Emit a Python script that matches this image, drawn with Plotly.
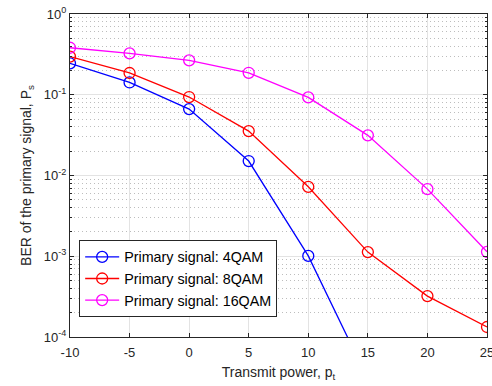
import plotly.graph_objects as go

power = [-10, -5, 0, 5, 10, 15, 20, 25]
ber_4qam = [0.245, 0.142, 0.0665, 0.0151, 0.00101, 3.0e-5, 5e-7, 5e-9]
ber_8qam = [0.296, 0.186, 0.0937, 0.0355, 0.00724, 0.001125, 0.000321, 0.000133]
ber_16qam = [0.382, 0.326, 0.267, 0.187, 0.0929, 0.0314, 0.00678, 0.001135]
names = ["Primary signal: 4QAM", "Primary signal: 8QAM", "Primary signal: 16QAM"]
colors = ["#0000FF", "#FF0000", "#FF00FF"]
x_ticks = [-10, -5, 0, 5, 10, 15, 20, 25]
x_ticktext = ["-10", "-5", "0", "5", "10", "15", "20", "25"]
y_ticks = [1e-4, 1e-3, 1e-2, 1e-1, 1e0]
y_ticktext = ["10<sup>-4</sup>", "10<sup>-3</sup>", "10<sup>-2</sup>", "10<sup>-1</sup>", "10<sup>0</sup>"]

fig = go.Figure()
for ys, nm, c in zip([ber_4qam, ber_8qam, ber_16qam], names, colors):
    fig.add_trace(go.Scatter(
        x=power, y=ys, name=nm, mode="lines+markers",
        line=dict(color=c, width=1.3),
        marker=dict(symbol="circle-open", size=11, color=c, line=dict(width=1.3, color=c)),
        cliponaxis=True,
    ))

font = "Liberation Sans, Arial, Helvetica, sans-serif"
fig.update_layout(
    width=492, height=386,
    margin=dict(l=70, r=5, t=14, b=49, autoexpand=False),
    paper_bgcolor="white", plot_bgcolor="white",
    font=dict(family=font, size=13, color="#262626"),
    showlegend=True,
    legend=dict(
        x=0.022, y=0.300, xanchor="left", yanchor="top",
        bordercolor="#262626", borderwidth=1, bgcolor="white",
        font=dict(size=14.3, color="#000000"),
        tracegroupgap=0, itemwidth=34,
    ),
)
fig.update_xaxes(
    range=[-10, 25], tickvals=x_ticks, ticktext=x_ticktext, automargin=False,
    ticklabeloverflow="allow",
    showline=True, linecolor="#262626", linewidth=1, mirror="allticks",
    ticks="inside", ticklen=4, tickcolor="#262626",
    tickfont=dict(size=13), ticklabelstandoff=3,
    showgrid=True, gridcolor="#E3E3E3", gridwidth=1, zeroline=False,
    title=dict(text="Transmit power, p<sub>t</sub>", standoff=8, font=dict(size=14)),
)
fig.update_yaxes(
    type="log", range=[-4, 0], tickvals=y_ticks, ticktext=y_ticktext, automargin=False,
    ticklabeloverflow="allow",
    showline=True, linecolor="#262626", linewidth=1, mirror="allticks",
    ticks="inside", ticklen=4, tickcolor="#262626",
    tickfont=dict(size=13),
    showgrid=True, gridcolor="#E3E3E3", gridwidth=1, zeroline=False,
    minor=dict(ticks="inside", ticklen=2, tickcolor="#262626", showgrid=True,
               gridcolor="#BDBDBD", griddash="1px,3px", gridwidth=1, dtick="D1"),
    title=dict(text="BER of the primary signal, P<sub>s</sub>", standoff=8, font=dict(size=14)),
)
fig.write_html("out.html", config={"displayModeBar": False},
               post_script="document.body.style.margin='0';")
